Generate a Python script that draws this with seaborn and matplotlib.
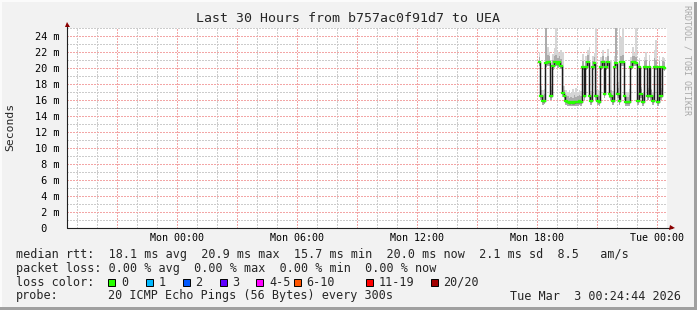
import numpy as np
import pandas as pd
import matplotlib
matplotlib.use("Agg")
import matplotlib.pyplot as plt
import matplotlib.dates as mdates
from matplotlib.ticker import MultipleLocator, FixedLocator, FixedFormatter, FuncFormatter
from matplotlib.patches import Rectangle
import seaborn as sns

# ---------------- data ----------------
title = "Last 30 Hours from b757ac0f91d7 to UEA"
y_label = "Seconds"
sample_start = "2026-03-02 18:05"
sample_step = "5min"
view_start = "2026-03-01 18:30"
view_end = "2026-03-03 00:30"

median_ms = [
    20.7, 16.5, 15.9, 15.9, 20.6, 20.7, 20.7, 16.5, 20.2, 20.7,
    20.7, 20.5, 20.7, 20.3, 16.9, 16.5, 15.9, 15.8, 15.6, 15.7,
    15.6, 15.8, 15.7, 15.7, 15.9, 15.8, 20.1, 16.5, 20.1, 20.7,
    16.5, 15.9, 20.1, 20.6, 16.5, 15.9, 15.8, 20.1, 20.7, 16.7,
    20.1, 20.7, 16.7, 16.5, 15.9, 20.1, 20.6, 16.7, 15.9, 20.7,
    20.7, 16.5, 15.7, 15.7, 15.8, 20.1, 20.7, 20.7, 20.6, 15.9,
    20.1, 16.7, 15.7, 20.1, 20.1, 16.5, 20.1, 16.5, 15.9, 20.1,
    20.1, 15.7, 20.1, 16.5, 20.1, 20.0]

smoke_lo_ms = [
    20.2, 16.0, 15.4, 15.5, 20.1, 20.3, 20.2, 16.0, 19.8, 20.3,
    20.2, 20.0, 20.3, 19.9, 16.4, 16.0, 15.4, 15.3, 15.2, 15.3,
    15.2, 15.3, 15.3, 15.2, 15.4, 15.3, 19.7, 16.0, 19.7, 20.3,
    16.0, 15.4, 19.7, 20.2, 16.0, 15.4, 15.3, 19.7, 20.3, 16.2,
    19.7, 20.3, 16.2, 16.0, 15.4, 19.7, 20.2, 16.2, 15.4, 20.3,
    20.3, 16.0, 15.2, 15.3, 15.3, 19.7, 20.3, 20.3, 20.2, 15.4,
    19.7, 16.2, 15.2, 19.7, 19.7, 16.0, 19.7, 16.0, 15.4, 19.7,
    19.7, 15.2, 19.7, 16.0, 19.7, 19.6]

smoke_core_ms = [
    21.4, 17.2, 16.6, 16.7, 25.3, 21.6, 21.5, 17.2, 21.0, 21.5,
    21.6, 21.3, 21.5, 21.1, 17.7, 17.2, 16.6, 16.5, 16.3, 16.4,
    16.3, 16.6, 16.4, 16.5, 16.6, 16.5, 20.9, 17.2, 20.9, 21.6,
    17.3, 16.6, 20.9, 21.4, 17.3, 16.6, 16.5, 20.9, 21.5, 17.5,
    20.9, 21.5, 17.4, 17.2, 16.6, 20.9, 25.3, 17.5, 16.7, 21.5,
    21.6, 17.2, 16.4, 16.4, 16.6, 20.9, 21.5, 21.5, 21.4, 16.6,
    20.9, 17.4, 16.4, 20.9, 21.0, 17.2, 20.9, 17.2, 16.6, 21.2,
    21.0, 16.4, 20.9, 17.2, 20.9, 20.8]

smoke_hi_ms = [
    22.0, 17.8, 17.2, 17.4, 25.3, 22.6, 22.0, 17.8, 21.8, 22.5,
    25.3, 22.0, 21.9, 22.2, 22.0, 17.8, 17.2, 17.0, 17.3, 16.9,
    17.4, 17.0, 17.5, 17.0, 17.2, 17.1, 21.7, 17.6, 21.5, 22.2,
    22.6, 17.1, 21.5, 21.9, 25.3, 17.3, 17.1, 21.4, 22.3, 17.9,
    21.4, 22.4, 17.9, 21.0, 17.1, 21.5, 25.3, 18.2, 25.3, 23.9,
    25.3, 17.6, 16.9, 17.0, 17.4, 21.4, 22.6, 21.9, 25.3, 17.0,
    21.3, 17.6, 16.9, 21.4, 22.0, 17.5, 21.6, 17.4, 17.0, 22.2,
    23.5, 16.8, 21.5, 17.5, 21.4, 21.2]

y_ticks = [0, 2, 4, 6, 8, 10, 12, 14, 16, 18, 20, 22, 24]
y_tick_labels = [" 0  ", " 2 m", " 4 m", " 6 m", " 8 m", "10 m", "12 m",
                 "14 m", "16 m", "18 m", "20 m", "22 m", "24 m"]
x_label_every_hours = 6

loss_labels = ["0", "1", "2", "3", "4-5", "6-10", "11-19", "20/20"]
loss_colors = ["#26ff00", "#00b8ff", "#0059ff", "#5e00ff",
               "#ff00ff", "#ff5500", "#ff0000", "#a10000"]

stats_rtt = "median rtt:  18.1 ms avg  20.9 ms max  15.7 ms min  20.0 ms now  2.1 ms sd  8.5   am/s"
stats_loss = "packet loss: 0.00 % avg  0.00 % max  0.00 % min  0.00 % now"
loss_head = "loss color:"
probe_head = "probe:"
probe_text = "20 ICMP Echo Pings (56 Bytes) every 300s"
stamp_text = "Tue Mar  3 00:24:44 2026"
watermark = "RRDTOOL / TOBI OETIKER"

# ---------------- style ----------------
sns.set_style("white")
plt.rcParams["font.family"] = ["DejaVu Sans Mono", "DejaVu Sans"]

W, H = 697, 310
BG = "#f2f2f2"
fig = plt.figure(figsize=(W / 100, H / 100), dpi=100, facecolor=BG)

def fx(px):
    return px / W

def fy(py):
    return 1 - py / H

ax = fig.add_axes([fx(67), fy(228), fx(600), 200 / H])
ax.set_facecolor("white")

times = pd.date_range(sample_start, periods=len(median_ms), freq=sample_step)
edges = times.append(pd.DatetimeIndex([times[-1] + pd.Timedelta(sample_step)]))

def ext(a):
    return np.append(np.asarray(a, float), a[-1])

x0, x1 = pd.Timestamp(view_start), pd.Timestamp(view_end)
ax.set_xlim(x0, x1)
ax.set_ylim(0, 25)

# dotted grid
minor_col, major_col = "#cccccc", "#f3a6a6"
for hr in pd.date_range(x0.ceil("h"), x1, freq="1h"):
    col = major_col if hr.hour % 3 == 0 else minor_col
    ax.axvline(hr, color=col, lw=0.72, linestyle=(0, (1.4, 1.4)), antialiased=False, zorder=1)
for yv in range(1, 26):
    col = major_col if yv % 2 == 0 else minor_col
    ax.axhline(yv, color=col, lw=0.72, linestyle=(0, (1.4, 1.4)), antialiased=False, zorder=1)

# smoke
ax.fill_between(edges, ext(smoke_lo_ms), ext(smoke_hi_ms), step="post",
                color="#d6d6d6", lw=0, zorder=2)
ax.fill_between(edges, ext(smoke_lo_ms), ext(smoke_core_ms), step="post",
                color="#acacac", lw=0, zorder=3)

# median line
sns.lineplot(x=edges, y=ext(median_ms), drawstyle="steps-post", color="#1c1c1c",
             lw=1.05, estimator=None, ax=ax, zorder=4, legend=False)
hl = ax.hlines(median_ms, times, times + pd.Timedelta(sample_step),
               colors=loss_colors[0], lw=1.6, zorder=5)
hl.set_capstyle("projecting")

ax.set_xlim(x0, x1)
ax.set_ylim(0, 25)
ax.set_xlabel("")
ax.set_ylabel("")

ax.xaxis.set_major_locator(mdates.HourLocator(byhour=range(0, 24, 3)))
ax.xaxis.set_minor_locator(mdates.HourLocator())

def xfmt(v, pos):
    d = mdates.num2date(v)
    return d.strftime("%a %H:%M") if d.hour % x_label_every_hours == 0 else ""

ax.xaxis.set_major_formatter(FuncFormatter(xfmt))
ax.yaxis.set_major_locator(FixedLocator(y_ticks))
ax.yaxis.set_major_formatter(FixedFormatter(y_tick_labels))
ax.yaxis.set_minor_locator(MultipleLocator(1))
ax.grid(False)

for s in ax.spines.values():
    s.set_visible(False)

ax.tick_params(axis="x", which="major", length=2, width=0.7, direction="inout",
               pad=2.5, labelsize=7.2, colors="black")
ax.tick_params(axis="x", which="minor", length=1.2, width=0.7, direction="inout")
ax.tick_params(axis="y", which="major", length=2, width=0.7, direction="inout",
               pad=22.3, labelsize=7.4, colors="black")
ax.tick_params(axis="y", which="minor", length=1.2, width=0.7, direction="inout")
for t in ax.get_yticklabels():
    t.set_horizontalalignment("left")

# axis lines with arrows
ax.plot([0, 0], [0, 1.015], transform=ax.transAxes, color="#202020", lw=0.8,
        clip_on=False, zorder=6)
ax.plot([0, 1.008], [0, 0], transform=ax.transAxes, color="#202020", lw=0.8,
        clip_on=False, zorder=6)
ax.plot([0], [1.022], marker="^", ms=3.6, color="#8b0000", transform=ax.transAxes,
        clip_on=False, zorder=7, mew=0)
ax.plot([1.0075], [0], marker=">", ms=3.6, color="#8b0000", transform=ax.transAxes,
        clip_on=False, zorder=7, mew=0)

# ---------------- texts ----------------
fig.text(fx(348.5), fy(19), title, ha="center", va="center", fontsize=9.5)
fig.text(fx(10), fy(127), y_label, ha="center", va="center", rotation=90, fontsize=8.2)
fig.text(fx(687), fy(60), watermark, ha="center", va="center", rotation=270,
         fontsize=6, color="#a8a8a8")

fs = 8.5
fig.text(fx(16), fy(254.5), stats_rtt, ha="left", va="center", fontsize=fs)
fig.text(fx(16), fy(268.5), stats_loss, ha="left", va="center", fontsize=fs)
fig.text(fx(16), fy(282), loss_head, ha="left", va="center", fontsize=fs)
fig.text(fx(16), fy(296), probe_head, ha="left", va="center", fontsize=fs)
fig.text(fx(107.5), fy(296), probe_text, ha="left", va="center", fontsize=fs)
fig.text(fx(681), fy(296), stamp_text, ha="right", va="center", fontsize=fs)

swatch_x_px = [108, 145.5, 182.5, 219.5, 256, 293.5, 365.5, 430.5]
for xp, lab, col in zip(swatch_x_px, loss_labels, loss_colors):
    fig.add_artist(Rectangle((fx(xp), fy(285.5)), 7 / W, 7 / H, transform=fig.transFigure,
                             facecolor=col, edgecolor="black", lw=0.7))
    fig.text(fx(xp + 13), fy(282), lab, ha="left", va="center", fontsize=fs)

# frame shading
fig.add_artist(Rectangle((fx(694), 0), 3 / W, 1, transform=fig.transFigure,
                         facecolor="#a0a0a0", lw=0))
fig.add_artist(Rectangle((0, 0), 1, 3 / H, transform=fig.transFigure,
                         facecolor="#a0a0a0", lw=0))
fig.add_artist(Rectangle((0, fy(2)), 1, 2 / H, transform=fig.transFigure,
                         facecolor="#fbfbfb", lw=0))
fig.add_artist(Rectangle((0, 3 / H), 2 / W, 1, transform=fig.transFigure,
                         facecolor="#fbfbfb", lw=0))

fig.savefig("out.png", dpi=100, facecolor=BG)
